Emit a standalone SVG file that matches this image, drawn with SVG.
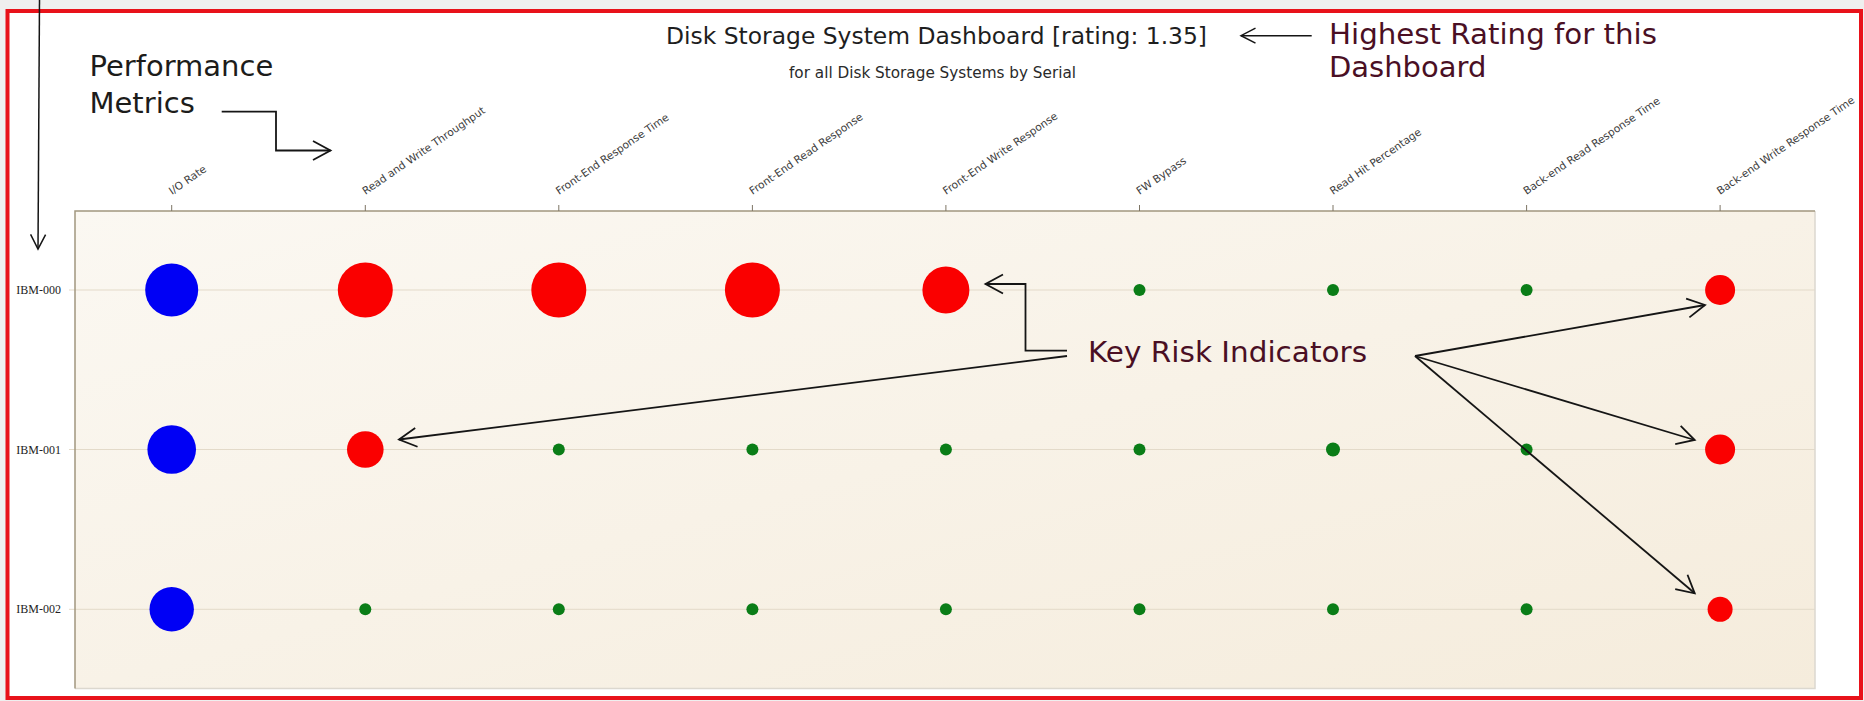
<svg xmlns="http://www.w3.org/2000/svg" width="1864" height="701" viewBox="0 0 1864 701">
  <defs>
    <linearGradient id="plotFill" x1="0" y1="0" x2="1" y2="1">
      <stop offset="0" stop-color="#fbf8f2"/>
      <stop offset="1" stop-color="#f5ecdc"/>
    </linearGradient>
    <marker id="head" markerUnits="userSpaceOnUse" markerWidth="26" markerHeight="26" viewBox="-22 -13 26 26" refX="0" refY="0" orient="auto">
      <path d="M-17.5,-9.5 L0,0 L-17.5,9.5" fill="none" stroke="#151515" stroke-width="1.8"/>
    </marker>
    <marker id="headSmall" markerUnits="userSpaceOnUse" markerWidth="22" markerHeight="22" viewBox="-18 -11 22 22" refX="0" refY="0" orient="auto">
      <path d="M-14.5,-7.5 L0,0 L-14.5,7.5" fill="none" stroke="#151515" stroke-width="1.5"/>
    </marker>
  </defs>
  <style>
    .frame{fill:#ffffff;stroke:#e8121a;stroke-width:4}
    .plot{fill:url(#plotFill)}
    .edge-dark{stroke:#a1977f;stroke-width:1.5;fill:none}
    .edge-light{stroke:#dcd8cf;stroke-width:1.5;fill:none}
    .grid{stroke:#e3dac9;stroke-width:1;fill:none}
    .tick{stroke:#7d7565;stroke-width:1;fill:none}
    .axis-label{font-family:"DejaVu Sans",Verdana,sans-serif;font-size:10.6px;fill:#3c3c3c}
    .row-label{font-family:"Liberation Serif","Times New Roman",serif;font-size:12px;fill:#222;text-anchor:end}
    .title{font-family:"DejaVu Sans",Verdana,sans-serif;font-size:23.4px;fill:#1e1e1e}
    .subtitle{font-family:"DejaVu Sans",Verdana,sans-serif;font-size:15.5px;fill:#2a2a2a}
    .callout{font-family:"DejaVu Sans",Verdana,sans-serif;font-size:29px}
    .ink{fill:#1c1c1a}
    .maroon{fill:#4a0f24}
    .conn{fill:none;stroke:#151515;stroke-width:1.8;marker-end:url(#head)}
    .conn-thin{fill:none;stroke:#151515;stroke-width:1.5;marker-end:url(#headSmall)}
    .blue{fill:#0000f5}
    .red{fill:#fa0000}
    .green{fill:#0a7d17}
  </style>

  <!-- page and red outline -->
  <rect x="0" y="0" width="1864" height="701" fill="#efefef"/>
  <rect class="frame" x="7.5" y="11" width="1853.5" height="687"/>

  <!-- plot area -->
  <g id="plot-area">
    <rect class="plot" x="75" y="211" width="1740" height="478"/>
    <path class="grid" d="M69,290 H1815 M69,449.5 H1815 M69,609.3 H1815"/>
    <path class="edge-light" d="M75,688.5 H1815 V211"/>
    <path class="edge-dark" d="M75,688.5 V211 H1815"/>
    <path class="tick" d="M171.7,205 V211 M365.3,205 V211 M558.8,205 V211 M752.4,205 V211 M945.9,205 V211 M1139.5,205 V211 M1333,205 V211 M1526.6,205 V211 M1720.1,205 V211"/>
  </g>

  <!-- headings -->
  <g id="title">
    <text class="title" x="666" y="44.3" textLength="541" lengthAdjust="spacingAndGlyphs">Disk Storage System Dashboard [rating: 1.35]</text>
    <text class="subtitle" x="789" y="78" textLength="287" lengthAdjust="spacingAndGlyphs">for all Disk Storage Systems by Serial</text>
  </g>

  <!-- metric column labels -->
  <g id="column-labels">
    <text class="axis-label" x="172" y="195" transform="rotate(-34.5 172 195)">I/O Rate</text>
    <text class="axis-label" x="365.5" y="195" transform="rotate(-34.5 365.5 195)">Read and Write Throughput</text>
    <text class="axis-label" x="559" y="195" transform="rotate(-34.5 559 195)">Front-End Response Time</text>
    <text class="axis-label" x="752.5" y="195" transform="rotate(-34.5 752.5 195)">Front-End Read Response</text>
    <text class="axis-label" x="946" y="195" transform="rotate(-34.5 946 195)">Front-End Write Response</text>
    <text class="axis-label" x="1139.5" y="195" transform="rotate(-34.5 1139.5 195)">FW Bypass</text>
    <text class="axis-label" x="1333" y="195" transform="rotate(-34.5 1333 195)">Read Hit Percentage</text>
    <text class="axis-label" x="1526.5" y="195" transform="rotate(-34.5 1526.5 195)">Back-end Read Response Time</text>
    <text class="axis-label" x="1720" y="195" transform="rotate(-34.5 1720 195)">Back-end Write Response Time</text>
  </g>

  <!-- system rows -->
  <g id="row-labels">
    <text class="row-label" x="61" y="294">IBM-000</text>
    <text class="row-label" x="61" y="453.5">IBM-001</text>
    <text class="row-label" x="61" y="613.3">IBM-002</text>
  </g>

  <!-- bubbles: IBM-000 -->
  <g id="ibm000">
    <g id="b0-0"><circle class="blue" cx="171.7" cy="290" r="26.5"/></g>
    <g id="b0-1"><circle class="red" cx="365.3" cy="290" r="27.5"/></g>
    <g id="b0-2"><circle class="red" cx="558.8" cy="290" r="27.5"/></g>
    <g id="b0-3"><circle class="red" cx="752.4" cy="290" r="27.5"/></g>
    <g id="b0-4"><circle class="red" cx="945.9" cy="290" r="23.5"/></g>
    <g id="b0-5"><circle class="green" cx="1139.5" cy="290" r="6"/></g>
    <g id="b0-6"><circle class="green" cx="1333" cy="290" r="6"/></g>
    <g id="b0-7"><circle class="green" cx="1526.6" cy="290" r="6"/></g>
    <g id="b0-8"><circle class="red" cx="1720.1" cy="290" r="15"/></g>
  </g>
  <!-- bubbles: IBM-001 -->
  <g id="ibm001">
    <g id="b1-0"><circle class="blue" cx="171.7" cy="449.5" r="24.3"/></g>
    <g id="b1-1"><circle class="red" cx="365.3" cy="449.5" r="18.3"/></g>
    <g id="b1-2"><circle class="green" cx="558.8" cy="449.5" r="6"/></g>
    <g id="b1-3"><circle class="green" cx="752.4" cy="449.5" r="6"/></g>
    <g id="b1-4"><circle class="green" cx="945.9" cy="449.5" r="6"/></g>
    <g id="b1-5"><circle class="green" cx="1139.5" cy="449.5" r="6"/></g>
    <g id="b1-6"><circle class="green" cx="1333" cy="449.5" r="7"/></g>
    <g id="b1-7"><circle class="green" cx="1526.6" cy="449.5" r="6"/></g>
    <g id="b1-8"><circle class="red" cx="1720.1" cy="449.5" r="15"/></g>
  </g>
  <!-- bubbles: IBM-002 -->
  <g id="ibm002">
    <g id="b2-0"><circle class="blue" cx="171.7" cy="609.3" r="22.2"/></g>
    <g id="b2-1"><circle class="green" cx="365.3" cy="609.3" r="6"/></g>
    <g id="b2-2"><circle class="green" cx="558.8" cy="609.3" r="6"/></g>
    <g id="b2-3"><circle class="green" cx="752.4" cy="609.3" r="6"/></g>
    <g id="b2-4"><circle class="green" cx="945.9" cy="609.3" r="6"/></g>
    <g id="b2-5"><circle class="green" cx="1139.5" cy="609.3" r="6"/></g>
    <g id="b2-6"><circle class="green" cx="1333" cy="609.3" r="6"/></g>
    <g id="b2-7"><circle class="green" cx="1526.6" cy="609.3" r="6"/></g>
    <g id="b2-8"><circle class="red" cx="1720.1" cy="609.3" r="12.5"/></g>
  </g>

  <!-- callout texts -->
  <g id="note-metrics">
    <text class="callout ink" x="89.5" y="76">Performance</text>
    <text class="callout ink" x="89.5" y="112.5">Metrics</text>
  </g>
  <g id="note-rating">
    <text class="callout maroon" x="1329" y="44.3" textLength="328" lengthAdjust="spacingAndGlyphs">Highest Rating for this</text>
    <text class="callout maroon" x="1329" y="76.5">Dashboard</text>
  </g>
  <g id="note-kri">
    <text class="callout maroon" x="1088" y="361.5" textLength="279" lengthAdjust="spacingAndGlyphs">Key Risk Indicators</text>
  </g>

  <!-- connectors -->
  <g id="connectors">
    <path class="conn-thin" d="M39.5,0 L38,249"/>
    <path class="conn" d="M221.7,111.7 H276 V150.5 H330.5"/>
    <path class="conn-thin" d="M1311.7,35.7 H1241"/>
    <path class="conn" d="M1067,350.7 H1025.5 V284 H985.5"/>
    <path class="conn" d="M1067,356 L399,439.5"/>
    <path class="conn" d="M1415,356 L1705,305"/>
    <path class="conn" d="M1415,356 L1694.7,440"/>
    <path class="conn" d="M1415,356 L1694.7,593.3"/>
  </g>
</svg>
